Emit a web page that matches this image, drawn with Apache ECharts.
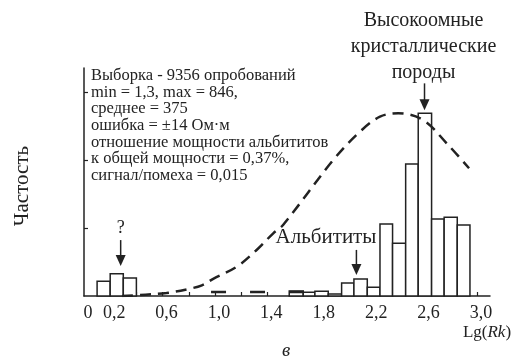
<!DOCTYPE html>
<html>
<head>
<meta charset="utf-8">
<script src="https://cdn.jsdelivr.net/npm/echarts@6/dist/echarts.min.js"></script>
<style>html,body{margin:0;padding:0;background:#fff}#c{width:515px;height:361px}</style>
</head>
<body>
<div id="c"></div>
<script>
// ---- data ----
const binStart = [0.10, 0.20, 0.30, 1.567, 1.674, 1.763, 1.865, 1.967, 2.061, 2.163, 2.260, 2.356, 2.456, 2.552, 2.654, 2.750, 2.850];
const binEnd   = [0.20, 0.30, 0.40, 1.674, 1.763, 1.865, 1.967, 2.061, 2.163, 2.260, 2.356, 2.456, 2.552, 2.654, 2.750, 2.850, 2.947];
const freq     = [0.216, 0.328, 0.265, 0.074, 0.054, 0.069, 0.029, 0.191, 0.250, 0.128, 1.059, 0.775, 1.941, 2.687, 1.132, 1.157, 1.044];
const curveX = [0.29, 0.47, 0.63, 0.79, 0.90, 0.99, 1.166, 1.318, 1.445, 1.52, 1.903, 2.107, 2.26, 2.40, 2.59, 2.769, 2.94];
const curveY = [0.0, 0.02, 0.044, 0.10, 0.157, 0.257, 0.43, 0.676, 0.922, 1.044, 2.0, 2.416, 2.637, 2.687, 2.588, 2.246, 1.878];
const noiseX = [0.97, 1.72];
const noiseY = [0.06, 0.06];
const xTickValues = [0.2,0.4,0.6,0.8,1.0,1.2,1.4,1.6,1.8,2.0,2.2,2.4,2.6,2.8,3.0];
const xLabelValues = [0, 0.2, 0.6, 1.0, 1.4, 1.8, 2.2, 2.6, 3.0];
const yTickValues = [1, 2, 3];
const infoLines = [
  'Выборка - 9356 опробований',
  'min = 1,3, max = 846,',
  'среднее = 375',
  'ошибка = ±14 Ом·м',
  'отношение мощности альбититов',
  'к общей мощности = 0,37%,',
  'сигнал/помеха = 0,015'
];

const FONT = '"Liberation Serif", "DejaVu Serif", serif';
const INK = '#222';
const chart = echarts.init(document.getElementById('c'), null, {renderer: 'canvas'});

const bars = binStart.map((s, i) => [s, binEnd[i], freq[i]]);
const curve = curveX.map((x, i) => [x, curveY[i]]);
const noise = noiseX.map((x, i) => [x, noiseY[i]]);

chart.setOption({
  animation: false,
  backgroundColor: '#fff',
  grid: {left: 84, right: 25, top: 68, bottom: 65, containLabel: false},
  xAxis: {
    type: 'value', min: 0, max: 3.1,
    splitLine: {show: false},
    axisLine: {lineStyle: {color: INK, width: 1.5}},
    axisTick: {show: true, inside: true, length: 4, lineStyle: {color: INK, width: 1.2}, customValues: xTickValues},
    axisLabel: {
      customValues: xLabelValues, margin: 8, padding: [0, 0, 0, 8],
      color: INK, fontFamily: FONT, fontSize: 18,
      formatter: v => (v === 0 ? '0' : v.toFixed(1).replace('.', ','))
    }
  },
  yAxis: {
    type: 'value', min: 0, max: 3.353,
    splitLine: {show: false},
    axisLine: {show: true, lineStyle: {color: INK, width: 1.5}},
    axisTick: {show: true, inside: true, length: 4, lineStyle: {color: INK, width: 1.2}, customValues: yTickValues},
    axisLabel: {show: false}
  },
  series: [
    {
      type: 'custom', data: bars, z: 2,
      renderItem: (params, api) => {
        const p0 = api.coord([api.value(0), 0]);
        const p1 = api.coord([api.value(1), api.value(2)]);
        return {type: 'rect', shape: {x: p0[0], y: p1[1], width: p1[0] - p0[0], height: p0[1] - p1[1]},
          style: {fill: '#fff', stroke: INK, lineWidth: 1.5}};
      }
    },
    {
      type: 'line', data: curve, smooth: 0.35, symbol: 'none', z: 5,
      lineStyle: {color: INK, width: 2.5, type: [11, 7]}
    },
    {
      type: 'line', data: noise, symbol: 'none', z: 5,
      lineStyle: {color: INK, width: 2.5, type: [15, 24]}
    }
  ]
});

function px(x, y) { return chart.convertToPixel({gridIndex: 0}, [x, y]); }
function arrow(x, tipData, lenPx) {
  const tip = px(x, tipData);
  const top = tip[1] - lenPx;
  return [
    {type: 'line', shape: {x1: tip[0], y1: top, x2: tip[0], y2: tip[1] - 8}, style: {stroke: INK, lineWidth: 1.5}, z: 10},
    {type: 'polygon', shape: {points: [[tip[0] - 5, tip[1] - 11], [tip[0] + 5, tip[1] - 11], [tip[0], tip[1]]]}, style: {fill: INK}, z: 10}
  ];
}

const g = [];
g.push({
  type: 'text', left: 91, top: 67, z: 10,
  style: {text: infoLines.join('\n'), font: '16.5px ' + FONT, fill: INK, lineHeight: 16.7}
});
g.push(...arrow(0.28, 0.44, 26));
g.push(...arrow(2.08, 0.31, 25));
g.push(...arrow(2.60, 2.73, 27));
const q = px(0.28, 0.44);
g.push({type: 'text', x: q[0], y: q[1] - 38, style: {text: '?', font: '18px ' + FONT, fill: INK, align: 'center', verticalAlign: 'middle'}, z: 10});
const a = px(1.84, 0.31);
g.push({type: 'text', x: a[0] + 1, y: a[1] - 37, style: {text: 'Альбититы', font: '21px ' + FONT, fill: INK, align: 'center', verticalAlign: 'middle'}, z: 10});
const h = px(2.60, 2.73);
g.push({type: 'text', x: h[0] - 1, y: 8, style: {text: 'Высокоомные\nкристаллические\nпороды', font: '20px ' + FONT, fill: INK, align: 'center', verticalAlign: 'top', lineHeight: 26}, z: 10});
g.push({type: 'text', x: 487, y: 333, style: {
  text: '{a|Lg(}{b|Rk}{a|)}', fill: INK, align: 'center', verticalAlign: 'middle',
  rich: {a: {font: '17px ' + FONT, fill: INK}, b: {font: 'italic 17px ' + FONT, fill: INK}}
}, z: 10});
g.push({type: 'text', x: 286, y: 351, style: {text: 'в', font: 'italic 19px ' + FONT, fill: INK, align: 'center', verticalAlign: 'middle'}, z: 10});
g.push({type: 'text', x: 22, y: 186, rotation: Math.PI / 2, style: {text: 'Частость', font: '21px ' + FONT, fill: INK, align: 'center', verticalAlign: 'middle'}, z: 10});

chart.setOption({graphic: g});
</script>
</body>
</html>
